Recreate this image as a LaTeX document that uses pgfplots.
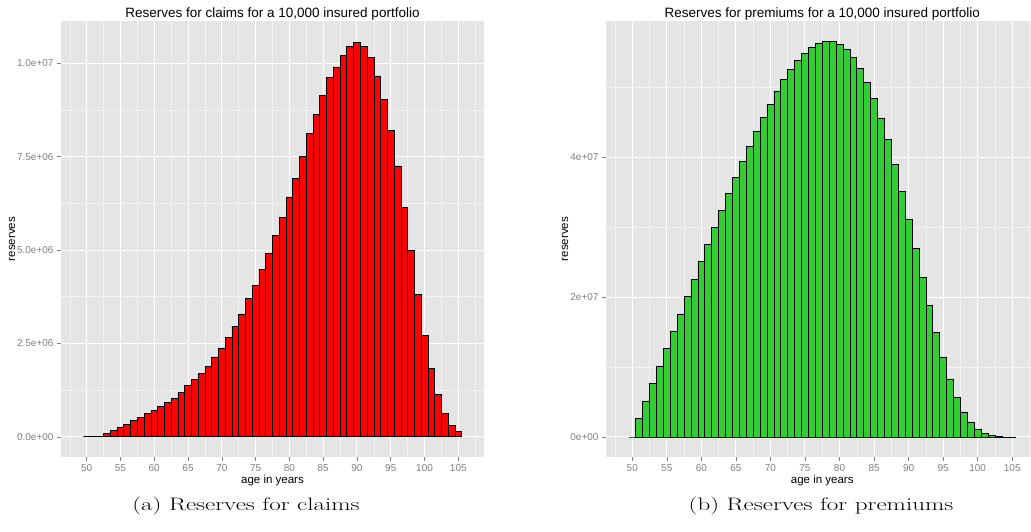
\documentclass[border=0pt]{standalone}
\usepackage{pgfplots}
\pgfplotsset{compat=1.18}
\usepackage{fontspec}
\newfontfamily\arial{Liberation Sans}
\definecolor{panelbg}{RGB}{229,229,229}
\definecolor{minorgrid}{RGB}{242,242,242}
\definecolor{ticklab}{RGB}{127,127,127}
\definecolor{limegreen}{RGB}{50,205,50}

\pgfplotstableread{
age value
50 0
51 0
52 0
53 90000
54 170000
55 250000
56 330000
57 430000
58 520000
59 625000
60 705000
61 820000
62 920000
63 1030000
64 1180000
65 1375000
66 1540000
67 1700000
68 1890000
69 2140000
70 2380000
71 2670000
72 2960000
73 3290000
74 3710000
75 4050000
76 4470000
77 4900000
78 5390000
79 5875000
80 6420000
81 6910000
82 7500000
83 8125000
84 8640000
85 9130000
86 9610000
87 9900000
88 10200000
89 10460000
90 10560000
91 10460000
92 10150000
93 9660000
94 9020000
95 8190000
96 7250000
97 6150000
98 4980000
99 3820000
100 2710000
101 1830000
102 1125000
103 625000
104 310000
105 150000
}\claims

\pgfplotstableread{
age value
50 0
51 2630000
52 5160000
53 7640000
54 10170000
55 12650000
56 15180000
57 17610000
58 20100000
59 22580000
60 25060000
61 27540000
62 30000000
63 32400000
64 34850000
65 37100000
66 39400000
67 41600000
68 43700000
69 45700000
70 47600000
71 49500000
72 51100000
73 52600000
74 53800000
75 54900000
76 55700000
77 56300000
78 56600000
79 56600000
80 56200000
81 55500000
82 54300000
83 52700000
84 50700000
85 48400000
86 45600000
87 42500000
88 39000000
89 35100000
90 31100000
91 26970000
92 22860000
93 18800000
94 14940000
95 11460000
96 8300000
97 5680000
98 3580000
99 2150000
100 1150000
101 530000
102 190000
103 50000
104 20000
105 10000
}\premiums

\pgfplotsset{
  ggstyle/.style={
    scale only axis,
    axis background/.style={fill=panelbg},
    axis line style={draw=none},
    grid=both,
    major grid style={white, line width=1pt},
    minor grid style={minorgrid, line width=0.5pt},
    tick align=outside,
    major tick length=4pt,
    minor tick length=0pt,
    tick style={ticklab, line width=0.6pt},
    xtick pos=bottom, ytick pos=left,
    xtick={50,55,...,105},
    minor xtick={47.5,52.5,...,107.5},
    ticklabel style={font=\arial\fontsize{10}{10}\selectfont, text=ticklab},
    /pgf/number format/assume math mode=true,
    scaled y ticks=false,
    xmin=46.2, xmax=108.8,
    ybar, bar width=1,
    every axis title/.style={font=\arial\fontsize{13.5}{14}\selectfont, at={(axis description cs:0.5,1)}, anchor=base, yshift=3.7pt},
    xlabel={age in years},
    ylabel={reserves},
    every axis x label/.style={font=\arial\fontsize{11.5}{12}\selectfont, at={([yshift=-27pt]axis description cs:0.5,0)}, anchor=base},
  }
}

\begin{document}
\begin{tikzpicture}[x=1pt,y=1pt]
\useasboundingbox (0,0) rectangle (1031,532);
\begin{axis}[ggstyle, at={(61pt,75pt)}, anchor=south west, width=423pt, height=436pt,
  ymin=-540000, ymax=11130000,
  ytick={0,2500000,5000000,7500000,10000000},
  yticklabels={0.0e+00,2.5e+06,5.0e+06,7.5e+06,1.0e+07},
  minor ytick={1250000,3750000,6250000,8750000},
  every axis y label/.style={font=\arial\fontsize{11.5}{12}\selectfont, at={([xshift=-46pt]axis description cs:0,0.5)}, rotate=90, anchor=base},
  title={Reserves for claims for a 10,000 insured portfolio}]
\addplot[fill=red, draw=black, line width=0.7pt] table[x=age, y=value] {\claims};
\end{axis}
\begin{axis}[ggstyle, at={(606pt,75pt)}, anchor=south west, width=432.5pt, height=436pt,
  ymin=-2860000, ymax=59500000,
  ytick={0,20000000,40000000},
  yticklabels={0e+00,2e+07,4e+07},
  minor ytick={10000000,30000000,50000000},
  every axis y label/.style={font=\arial\fontsize{11.5}{12}\selectfont, at={([xshift=-38pt]axis description cs:0,0.5)}, rotate=90, anchor=base},
  title={Reserves for premiums for a 10,000 insured portfolio}]
\addplot[fill=limegreen, draw=black, line width=0.7pt] table[x=age, y=value] {\premiums};
\end{axis}
\node[font=\fontsize{18}{20}\selectfont, anchor=base] at (246,21.3) {\scalebox{1.39}[1]{(a) Reserves for claims}};
\node[font=\fontsize{18}{20}\selectfont, anchor=base] at (821,21.3) {\scalebox{1.39}[1]{(b) Reserves for premiums}};
\end{tikzpicture}
\end{document}
